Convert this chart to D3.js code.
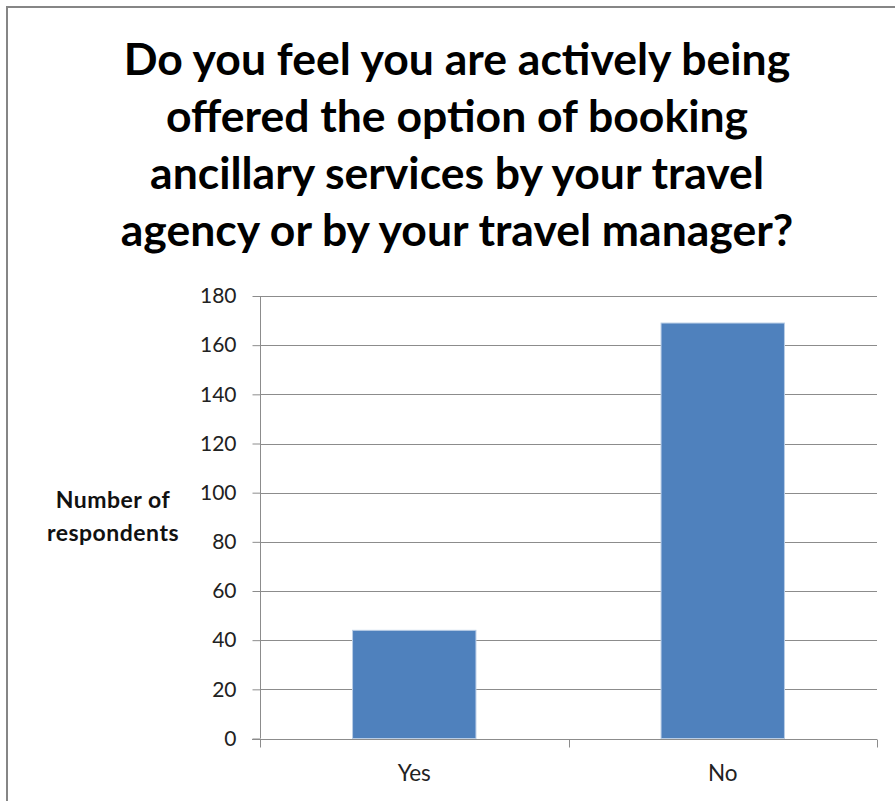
<!DOCTYPE html>
<html>
<head>
<meta charset="utf-8">
<script src="https://cdn.jsdelivr.net/npm/d3@7"></script>
<style>
  html, body { margin: 0; padding: 0; background: #fff; }
  svg { display: block; }
</style>
</head>
<body>
<svg id="chart" width="895" height="801"></svg>
<script>
// Survey answers
const categories = ["Yes", "No"];
const respondents = [44, 169];
const yTicks = [0, 20, 40, 60, 80, 100, 120, 140, 160, 180];
const titleLines = [
  "Do you feel you are actively being",
  "offered the option of booking",
  "ancillary services by your travel",
  "agency or by your travel manager?"
];
const yLabelLines = ["Number of", "respondents"];

const W = 895, H = 801;
const svg = d3.select("#chart");
const font = "Lato, 'Open Sans', 'DejaVu Sans', sans-serif";

// Chart frame (runs off the right and bottom edges)
svg.append("rect")
  .attr("x", 7).attr("y", 7)
  .attr("width", W + 20).attr("height", H + 20)
  .attr("fill", "#fff")
  .attr("stroke", "#868686")
  .attr("stroke-width", 2);

const plot = { left: 260, right: 877, top: 296, bottom: 738.5 };

const x = d3.scaleBand()
  .domain(categories)
  .range([plot.left, plot.right])
  .paddingInner(0.6)
  .paddingOuter(0.3);

const y = d3.scaleLinear()
  .domain([0, 180])
  .range([plot.bottom, plot.top]);

// Horizontal gridlines
svg.append("g")
  .selectAll("line")
  .data(yTicks.filter(d => d > 0))
  .join("line")
  .attr("x1", plot.left).attr("x2", plot.right)
  .attr("y1", d => Math.round(y(d)) + 0.5)
  .attr("y2", d => Math.round(y(d)) + 0.5)
  .attr("stroke", "#8c8c8c")
  .attr("stroke-width", 1);

// Bars
svg.append("g")
  .selectAll("rect")
  .data(categories.map((c, i) => ({ c, v: respondents[i] })))
  .join("rect")
  .attr("x", d => x(d.c))
  .attr("y", d => y(d.v))
  .attr("width", x.bandwidth())
  .attr("height", d => y(0) - y(d.v))
  .attr("fill", "#4f81bd")
  .attr("stroke", "#b9cde5")
  .attr("stroke-width", 1);

// Y axis
const yAxis = svg.append("g")
  .attr("transform", `translate(${plot.left + 0.5},0)`)
  .call(d3.axisLeft(y).tickValues(yTicks).tickSize(8).tickPadding(16).tickFormat(d3.format("d")));
yAxis.select(".domain").attr("stroke", "#8c8c8c").attr("d", `M0,${plot.top}V${plot.bottom}`);
yAxis.selectAll(".tick line").attr("stroke", "#8c8c8c");
yAxis.selectAll(".tick text")
  .attr("font-family", font)
  .attr("font-size", 21)
  .attr("fill", "#222");

// X axis with tick marks between categories
const xAxisY = Math.round(y(0)) + 0.5;
svg.append("line")
  .attr("x1", plot.left - 8).attr("x2", plot.right)
  .attr("y1", xAxisY).attr("y2", xAxisY)
  .attr("stroke", "#8c8c8c");
const bounds = [plot.left, ...categories.map(c => x(c) + x.bandwidth() / 2 + x.step() / 2)];
svg.append("g")
  .selectAll("line")
  .data(bounds)
  .join("line")
  .attr("x1", d => Math.round(d) + 0.5).attr("x2", d => Math.round(d) + 0.5)
  .attr("y1", xAxisY).attr("y2", xAxisY + 8)
  .attr("stroke", "#8c8c8c");
svg.append("g")
  .selectAll("text")
  .data(categories)
  .join("text")
  .attr("x", d => x(d) + x.bandwidth() / 2)
  .attr("y", 781)
  .attr("text-anchor", "middle")
  .attr("font-family", font)
  .attr("font-size", 22.5)
  .attr("fill", "#222")
  .text(d => d);

// Y axis title
svg.append("g")
  .selectAll("text")
  .data(yLabelLines)
  .join("text")
  .attr("x", 113)
  .attr("y", (d, i) => 508 + i * 33)
  .attr("text-anchor", "middle")
  .attr("font-family", font)
  .attr("font-weight", "bold")
  .attr("font-size", 23)
  .attr("letter-spacing", 0.5)
  .attr("fill", "#111")
  .text(d => d);

// Chart title
svg.append("g")
  .selectAll("text")
  .data(titleLines)
  .join("text")
  .attr("x", 457)
  .attr("y", (d, i) => 75 + i * 57)
  .attr("text-anchor", "middle")
  .attr("font-family", font)
  .attr("font-weight", "bold")
  .attr("font-size", 44.5)
  .attr("fill", "#000")
  .text(d => d);
</script>
</body>
</html>
